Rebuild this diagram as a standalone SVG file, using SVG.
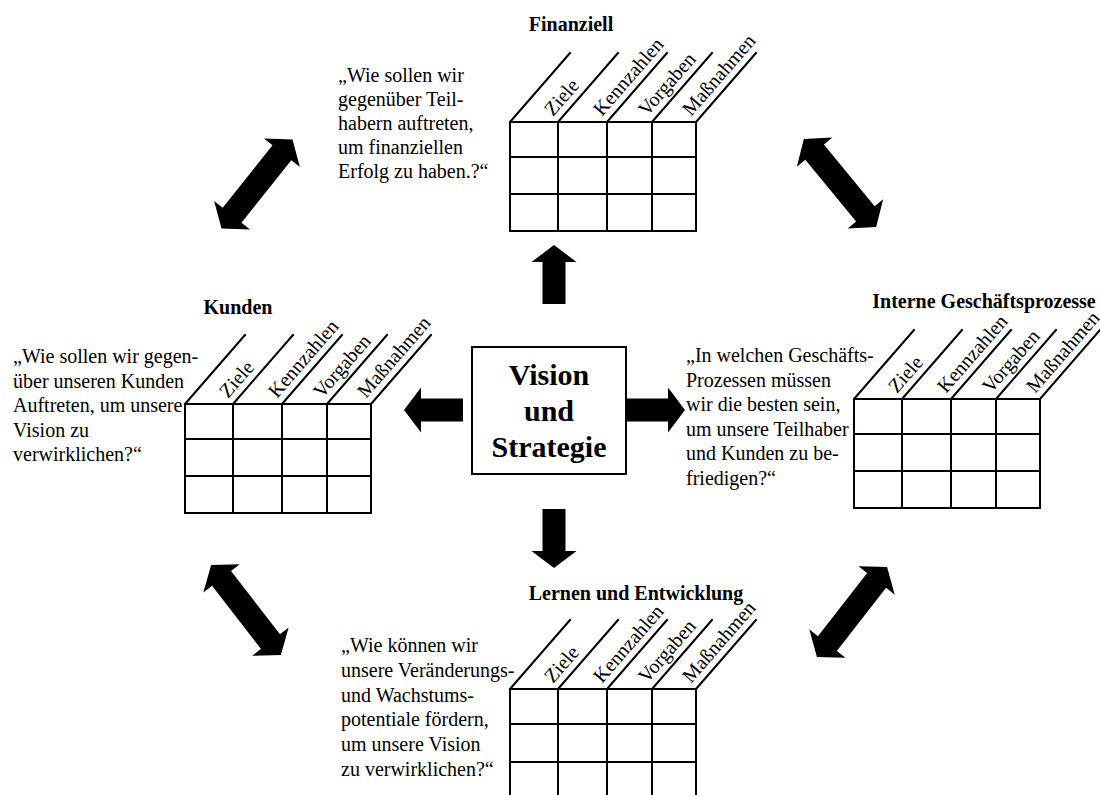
<svg xmlns="http://www.w3.org/2000/svg" xmlns:xlink="http://www.w3.org/1999/xlink" width="1100" height="795" viewBox="0 0 1100 795">
<style>
.t{font-family:"Liberation Serif","Times New Roman",serif;font-size:20px;fill:#000}
.b{font-weight:bold}
.c{text-anchor:middle}
.big{font-size:30px}
.ln{stroke:#000;stroke-width:2;fill:none;stroke-linecap:square}
.ar{fill:#000}
</style>
<defs>
<g id="head">
<path class="ln" d="M0,0 l60,-69 M48,0 l60,-69 M97,0 l60,-69 M142,0 l60,-69 M186,0 l60,-69"/>
<text class="t" transform="translate(43,-5) rotate(-49)">Ziele</text>
<text class="t" transform="translate(92,-5) rotate(-49)">Kennzahlen</text>
<text class="t" transform="translate(137,-5) rotate(-49)">Vorgaben</text>
<text class="t" transform="translate(181,-5) rotate(-49)">Maßnahmen</text>
</g>
<path id="grid" class="ln" d="M0,0 H186 M0,35 H186 M0,72 H186 M0,109 H186 M0,0 V109 M48,0 V109 M97,0 V109 M142,0 V109 M186,0 V109"/>
<path id="gridOpen" class="ln" d="M0,0 H186 M0,35 H186 M0,73 H186 M0,0 V120 M48,0 V120 M97,0 V120 M142,0 V120 M186,0 V120"/>
<path id="arr" class="ar" d="M0,-11.5 H42 V-22.5 L59,0 L42,22.5 V11.5 H0 Z"/>
<path id="dbl" class="ar" d="M-57,0 L-40,-23 V-12 H40 V-23 L57,0 L40,23 V12 H-40 V23 Z"/>
</defs>
<rect width="1100" height="795" fill="#fff"/>

<g id="connectors">
<use xlink:href="#arr" href="#arr" transform="translate(554,304) rotate(-90)"/>
<use xlink:href="#arr" href="#arr" transform="translate(554,509) rotate(90)"/>
<use xlink:href="#arr" href="#arr" transform="translate(463,410) rotate(180)"/>
<use xlink:href="#arr" href="#arr" transform="translate(626,410)"/>
<use xlink:href="#dbl" href="#dbl" transform="translate(257,184) rotate(-51.5)"/>
<use xlink:href="#dbl" href="#dbl" transform="translate(840,183) rotate(50.6)"/>
<use xlink:href="#dbl" href="#dbl" transform="translate(246,610) rotate(52.3)"/>
<use xlink:href="#dbl" href="#dbl" transform="translate(852,612) rotate(-52)"/>
</g>

<g id="vision">
<rect x="472" y="347" width="154" height="127" fill="#fff" stroke="#000" stroke-width="2"/>
<text class="t b c big" x="549" y="385">Vision</text>
<text class="t b c big" x="549" y="421">und</text>
<text class="t b c big" x="549" y="457">Strategie</text>
</g>

<g id="finanziell">
<text class="t b c" x="571" y="31">Finanziell</text>
<use xlink:href="#head" href="#head" transform="translate(510,122)"/>
<use xlink:href="#grid" href="#grid" transform="translate(510,122)"/>
<text class="t" x="338" y="82">„Wie sollen wir</text>
<text class="t" x="338" y="106">gegenüber Teil-</text>
<text class="t" x="338" y="130">habern auftreten,</text>
<text class="t" x="338" y="154">um finanziellen</text>
<text class="t" x="338" y="178">Erfolg zu haben.?“</text>
</g>

<g id="kunden">
<text class="t b c" x="238" y="314">Kunden</text>
<use xlink:href="#head" href="#head" transform="translate(185,404)"/>
<use xlink:href="#grid" href="#grid" transform="translate(185,404)"/>
<text class="t" x="13" y="363">„Wie sollen wir gegen-</text>
<text class="t" x="13" y="387.5">über unseren Kunden</text>
<text class="t" x="13" y="412">Auftreten, um unsere</text>
<text class="t" x="13" y="436.5">Vision zu</text>
<text class="t" x="13" y="461">verwirklichen?“</text>
</g>

<g id="interne">
<text class="t b c" x="984" y="308">Interne Geschäftsprozesse</text>
<use xlink:href="#head" href="#head" transform="translate(854,399)"/>
<use xlink:href="#grid" href="#grid" transform="translate(854,399)"/>
<text class="t" x="686" y="362">„In welchen Geschäfts-</text>
<text class="t" x="686" y="386.5">Prozessen müssen</text>
<text class="t" x="686" y="411">wir die besten sein,</text>
<text class="t" x="686" y="435.5">um unsere Teilhaber</text>
<text class="t" x="686" y="460">und Kunden zu be-</text>
<text class="t" x="686" y="484.5">friedigen?“</text>
</g>

<g id="lernen">
<text class="t b c" x="636" y="600">Lernen und Entwicklung</text>
<use xlink:href="#head" href="#head" transform="translate(510,689)"/>
<use xlink:href="#gridOpen" href="#gridOpen" transform="translate(510,689)"/>
<text class="t" x="341" y="652">„Wie können wir</text>
<text class="t" x="341" y="677">unsere Veränderungs-</text>
<text class="t" x="341" y="701.5">und Wachstums-</text>
<text class="t" x="341" y="726">potentiale fördern,</text>
<text class="t" x="341" y="751">um unsere Vision</text>
<text class="t" x="341" y="776">zu verwirklichen?“</text>
</g>
</svg>
